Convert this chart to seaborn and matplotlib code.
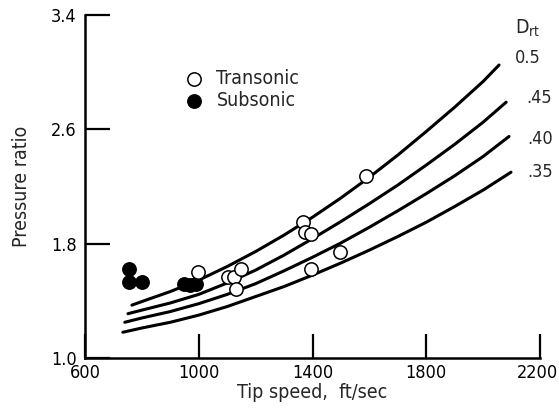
import matplotlib
matplotlib.use("Agg")
import matplotlib.pyplot as plt
import matplotlib.transforms as mtransforms
import seaborn as sns
import pandas as pd

# ---- data ----
drt_labels = ["0.5", ".45", ".40", ".35"]

c050_x = [765, 800, 900, 1000, 1100, 1200, 1300, 1400, 1500, 1600, 1700, 1800, 1900, 2000, 2056]
c050_y = [1.37, 1.395, 1.465, 1.545, 1.64, 1.745, 1.86, 1.985, 2.12, 2.265, 2.42, 2.585, 2.755, 2.935, 3.05]
c045_x = [751, 800, 900, 1000, 1100, 1200, 1300, 1400, 1500, 1600, 1700, 1800, 1900, 2000, 2081]
c045_y = [1.31, 1.335, 1.385, 1.445, 1.525, 1.615, 1.72, 1.835, 1.955, 2.08, 2.21, 2.35, 2.495, 2.65, 2.79]
c040_x = [740, 800, 900, 1000, 1100, 1200, 1300, 1400, 1500, 1600, 1700, 1800, 1900, 2000, 2091]
c040_y = [1.25, 1.28, 1.325, 1.38, 1.445, 1.52, 1.61, 1.705, 1.805, 1.915, 2.03, 2.15, 2.275, 2.41, 2.55]
c035_x = [733, 800, 900, 1000, 1100, 1200, 1300, 1400, 1500, 1600, 1700, 1800, 1900, 2000, 2098]
c035_y = [1.18, 1.21, 1.25, 1.30, 1.36, 1.43, 1.50, 1.58, 1.665, 1.755, 1.85, 1.95, 2.06, 2.175, 2.30]

trans_x = [996, 1102, 1123, 1147, 1130, 1368, 1372, 1396, 1495, 1393, 1589]
trans_y = [1.60, 1.57, 1.57, 1.62, 1.48, 1.95, 1.88, 1.87, 1.74, 1.62, 2.27]
sub_x = [754, 754, 800, 947, 968, 990]
sub_y = [1.62, 1.53, 1.53, 1.52, 1.51, 1.52]

x_ticks = [600, 1000, 1400, 1800, 2200]
y_ticks = [1.0, 1.8, 2.6, 3.4]
y_ticklabels = ["1.0", "1.8", "2.6", "3.4"]

# ---- build tables ----
curves = pd.concat([
    pd.DataFrame({"speed": xs, "pr": ys, "Drt": lab})
    for xs, ys, lab in zip([c050_x, c045_x, c040_x, c035_x],
                           [c050_y, c045_y, c040_y, c035_y], drt_labels)
], ignore_index=True)
trans = pd.DataFrame({"speed": trans_x, "pr": trans_y})
sub = pd.DataFrame({"speed": sub_x, "pr": sub_y})

sns.set_style("ticks")
FONT = ["DejaVu Sans", "Liberation Sans"]
plt.rcParams["font.family"] = FONT
plt.rcParams["font.stretch"] = "condensed"
plt.rcParams["mathtext.fontset"] = "dejavusans"

fig = plt.figure(figsize=(5.59, 4.08), dpi=100)
ax = fig.add_axes([85 / 559, 50 / 408, 455 / 559, 343 / 408])

sns.lineplot(data=curves, x="speed", y="pr", units="Drt", estimator=None,
             color="black", linewidth=2.2, sort=False, ax=ax, legend=False)
sns.scatterplot(data=sub, x="speed", y="pr", s=92, color="black",
                edgecolor="black", linewidth=1.1, ax=ax, zorder=3)
sns.scatterplot(data=trans, x="speed", y="pr", s=92, facecolor="white",
                edgecolor="black", linewidth=1.1, ax=ax, zorder=4)

ax.set_xlim(600, 2200)
ax.set_ylim(1.0, 3.4)
ax.set_xticks(x_ticks)
ax.set_yticks(y_ticks)
ax.set_yticklabels(y_ticklabels)
ax.tick_params(direction="in", width=1.6, labelsize=13, colors="black")
ax.tick_params(axis="x", length=17, pad=4)
ax.tick_params(axis="y", length=18, pad=6)
sns.despine(ax=ax)
for sp in ("left", "bottom"):
    ax.spines[sp].set_linewidth(1.8)
    ax.spines[sp].set_color("black")

# nudge the last x tick label slightly inward so it stays inside the canvas
shift = mtransforms.ScaledTranslation(-3 / 100, 0, fig.dpi_scale_trans)
fig.canvas.draw()
last = ax.get_xticklabels()[-1]
last.set_transform(last.get_transform() + shift)

ax.set_xlabel("Tip speed,  ft/sec", fontsize=14, labelpad=1)
ax.set_ylabel("Pressure ratio", fontsize=14, labelpad=14)

# legend
h1 = ax.scatter([], [], s=92, facecolor="white", edgecolor="black", linewidth=1.1)
h2 = ax.scatter([], [], s=92, facecolor="black", edgecolor="black", linewidth=1.1)
ax.legend([h1, h2], ["Transonic", "Subsonic"], frameon=False, fontsize=14,
          loc="upper left", bbox_to_anchor=(0.18, 0.865), handletextpad=0.15,
          labelspacing=0.15, borderaxespad=0)

# curve labels
ax.text(2112, 3.31, r"D$_{\rm rt}$", fontsize=14, ha="left", va="center", clip_on=False)
label_pos = [(2112, 3.10), (2150, 2.82), (2155, 2.53), (2155, 2.30)]
for lab, (lx, ly) in zip(drt_labels, label_pos):
    ax.text(lx, ly, lab, fontsize=13, ha="left", va="center", clip_on=False)

fig.savefig("out.png", dpi=100)
